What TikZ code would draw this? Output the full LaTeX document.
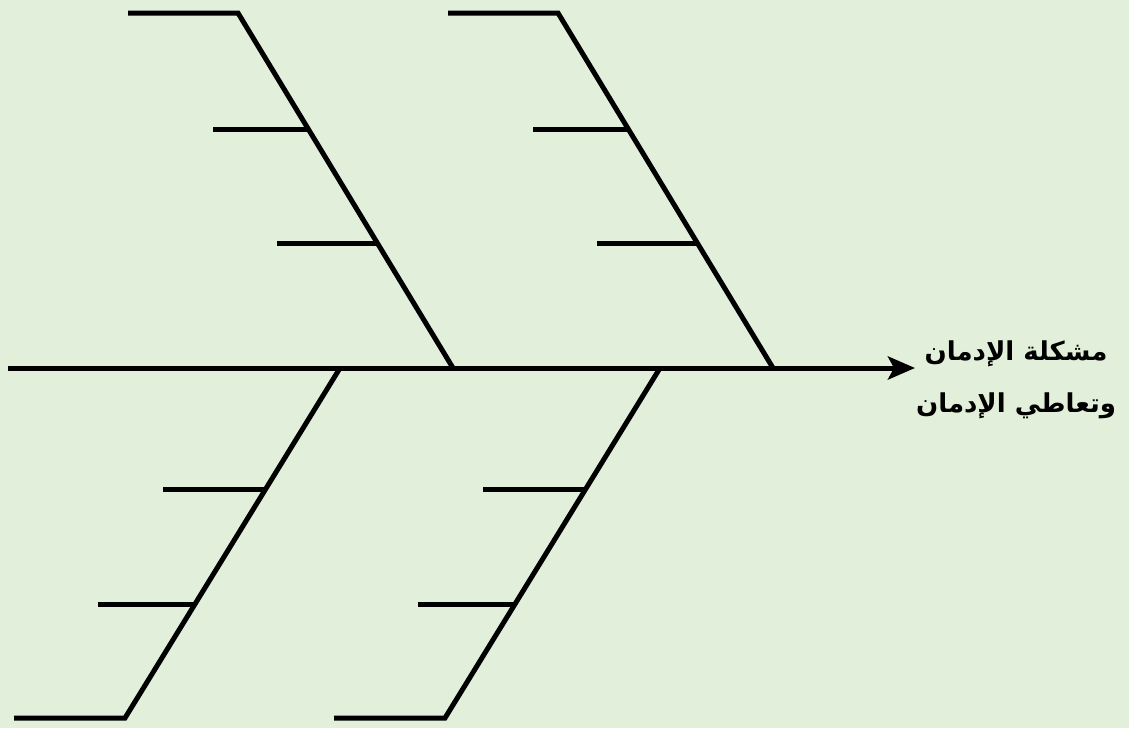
\documentclass[tikz,border=0pt]{standalone}
\usepackage{fontspec}
\usetikzlibrary{arrows.meta}
\TeXXeTstate=1
\newfontfamily\arabicfont[Script=Arabic]{DejaVu Sans}
\definecolor{bg}{HTML}{E2EFDA}
\tikzset{bone/.style={line width=5pt,line join=miter,line cap=butt},
  label/.style={font=\arabicfont\bfseries\fontsize{26}{31}\selectfont,align=center}}
\begin{document}
\begin{tikzpicture}[x=1pt,y=-1pt]
\fill[bg] (0,0) rectangle (1129,728);
\useasboundingbox (0,0) rectangle (1129,728);
% spine
\coordinate (s0) at (8,368);
\coordinate (head) at (915,368);
\node[label,anchor=center] (effect) at (1016,380) {\beginR مشكلة الإدمان\endR\\[21pt]\beginR وتعاطي  الإدمان\endR};
\draw[bone,-{Stealth[length=27pt,width=23pt,inset=6pt]}] (s0) -- (head);
% upper bones
\foreach \n/\ox in {a/0,b/320}{
  \coordinate (\n top) at (238+\ox,13);
  \coordinate (\n tl) at (128+\ox,13);
  \coordinate (\n base) at (453+\ox,368);
  \coordinate (\n j1) at (308+\ox,129);
  \coordinate (\n r1) at (213+\ox,129);
  \coordinate (\n j2) at (377+\ox,243);
  \coordinate (\n r2) at (277+\ox,243);
  \draw[bone] (\n tl) -- (\n top) -- (\n base);
  \draw[bone] (\n r1) -- (\n j1);
  \draw[bone] (\n r2) -- (\n j2);
}
% lower bones
\foreach \n/\ox in {c/0,d/320}{
  \coordinate (\n bot) at (125+\ox,718);
  \coordinate (\n bl) at (14+\ox,718);
  \coordinate (\n base) at (340+\ox,368);
  \coordinate (\n j1) at (266+\ox,489);
  \coordinate (\n r1) at (163+\ox,489);
  \coordinate (\n j2) at (195+\ox,604);
  \coordinate (\n r2) at (98+\ox,604);
  \draw[bone] (\n bl) -- (\n bot) -- (\n base);
  \draw[bone] (\n r1) -- (\n j1);
  \draw[bone] (\n r2) -- (\n j2);
}
\end{tikzpicture}
\end{document}
